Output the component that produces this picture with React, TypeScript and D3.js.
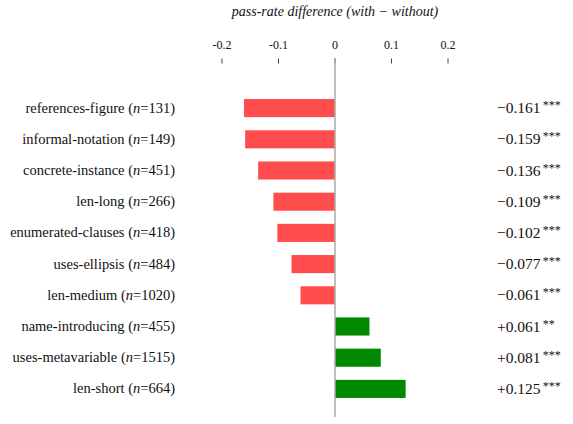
import React from "react";
import * as d3 from "d3";

const categories = [
  "references-figure",
  "informal-notation",
  "concrete-instance",
  "len-long",
  "enumerated-clauses",
  "uses-ellipsis",
  "len-medium",
  "name-introducing",
  "uses-metavariable",
  "len-short",
];
const counts = [131, 149, 451, 266, 418, 484, 1020, 455, 1515, 664];
const diffs = [-0.161, -0.159, -0.136, -0.109, -0.102, -0.077, -0.061, 0.061, 0.081, 0.125];
const stars = ["***", "***", "***", "***", "***", "***", "***", "**", "***", "***"];
const tickValues = [-0.2, -0.1, 0, 0.1, 0.2];
const tickLabels = ["-0.2", "-0.1", "0", "0.1", "0.2"];

const W = 573;
const H = 424;
const SERIF = "Liberation Serif, Times New Roman, serif";

export default function App() {
  const x = d3.scaleLinear().domain([-0.2, 0.2]).range([222, 448]);
  const y = d3
    .scaleBand<string>()
    .domain(categories)
    .range([92.5, 404.5])
    .paddingInner(0.42)
    .paddingOuter(0.21);
  const bw = y.bandwidth();
  const fmt = (v: number) => (v < 0 ? "\u2212" : "+") + Math.abs(v).toFixed(3);

  return (
    <svg
      width={W}
      height={H}
      style={{ position: "absolute", left: 0, top: 0, background: "#fff", fontFamily: SERIF }}
    >
      <text
        x={x(0)}
        y={16}
        textAnchor="middle"
        style={{ fontFamily: SERIF, fontSize: 14, fontStyle: "italic" }}
        fill="#111"
      >
        pass-rate difference (with {"\u2212"} without)
      </text>

      {tickValues.map((t, i) => (
        <g key={t}>
          <text x={x(t)} y={49} textAnchor="middle" style={{ fontFamily: SERIF, fontSize: 12 }} fill="#111">
            {tickLabels[i]}
          </text>
          <line x1={x(t)} x2={x(t)} y1={58.5} y2={63.5} stroke="#444" strokeWidth={1} />
        </g>
      ))}

      {categories.map((c, i) => {
        const v = diffs[i];
        const y0 = y(c)!;
        const x0 = Math.min(x(0), x(v));
        const cy = y0 + bw / 2;
        return (
          <g key={c}>
            <rect
              x={x0}
              y={y0}
              width={Math.abs(x(v) - x(0))}
              height={bw}
              fill={v < 0 ? "#ff4d4d" : "#008800"}
            />
            <text x={175} y={cy + 4.5} textAnchor="end" style={{ fontFamily: SERIF, fontSize: 14.5 }} fill="#111">
              {c} (<tspan style={{ fontStyle: "italic" }}>n</tspan>={counts[i]})
            </text>
            <text x={497} y={cy + 5} style={{ fontFamily: SERIF, fontSize: 15.5 }} fill="#111">
              {fmt(v)}
              <tspan style={{ fontSize: 12 }} dy={-4} dx={2}>
                {stars[i]}
              </tspan>
            </text>
          </g>
        );
      })}

      <line x1={x(0)} x2={x(0)} y1={58} y2={417} stroke="#aaa" strokeWidth={1.5} />
    </svg>
  );
}
